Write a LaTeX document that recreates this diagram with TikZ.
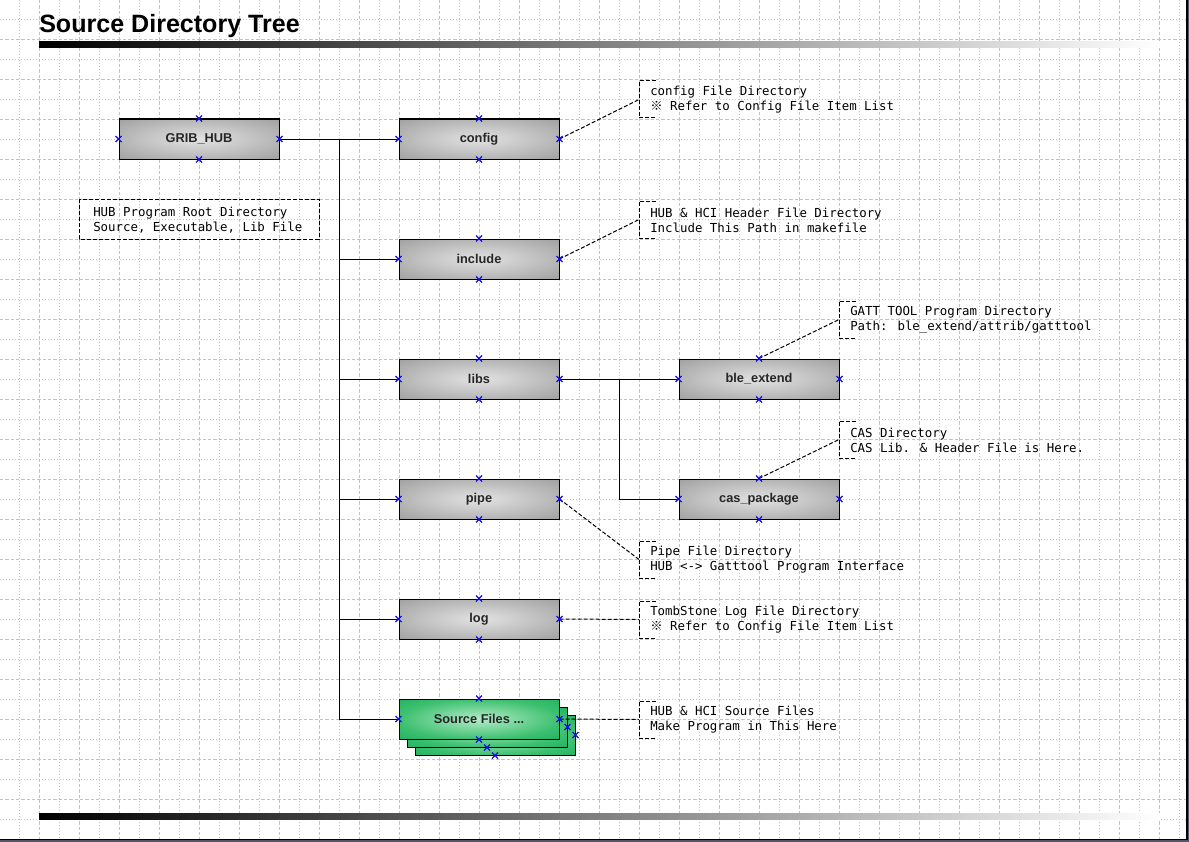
\documentclass[tikz,border=0pt]{standalone}
\usepackage{fontspec}
\newfontfamily\monof{DejaVu Sans Mono}
\newfontfamily\boxfont{Liberation Sans}
\newfontfamily\cjkf{Noto Sans CJK KR}
\usetikzlibrary{calc}
\definecolor{gridc}{HTML}{C2C2C2}
\definecolor{boxout}{HTML}{868686}
\definecolor{boxin}{HTML}{E2E2E2}
\definecolor{grnout}{HTML}{00A24C}
\definecolor{grnmid}{HTML}{3CC070}
\definecolor{grnin}{HTML}{B4ECC8}
\definecolor{framec}{HTML}{55556A}
\definecolor{mkc}{HTML}{1010E0}
\pgfdeclareradialshading{grayshade}{\pgfpoint{0bp}{0bp}}{color(0bp)=(boxin); color(50bp)=(boxout); color(75bp)=(boxout)}
\pgfdeclareradialshading{greenshade}{\pgfpoint{0bp}{0bp}}{color(0bp)=(grnin); color(25bp)=(grnmid); color(50bp)=(grnout); color(75bp)=(grnout)}
\newcommand\refmark{{\cjkf ※}}
\tikzset{
  griddot/.style={draw=gridc, line width=0.7pt, dash pattern=on 0.75pt off 1.5pt},
  griddash/.style={draw=gridc, line width=0.7pt, dash pattern=on 2.5pt off 1.5pt},
  dirbox/.style={draw=black, line width=0.75pt, shading=grayshade, minimum width=120pt, minimum height=30pt, inner sep=0pt, font=\boxfont\bfseries\fontsize{9.6}{11}\selectfont, text=black!85},
  srcbox/.style={dirbox, shading=greenshade},
  conn/.style={draw=black, line width=0.75pt},
  brk/.style={draw=black, line width=0.75pt, dash pattern=on 3pt off 1.5pt},
  annot/.style={font=\monof\fontsize{9.3}{11.25}\selectfont, align=left, inner sep=0pt, text=black},
  mkst/.style={draw=mkc, line width=0.85pt},
}
\newcommand\annot[5]{%
  \draw[brk] ({#2+17},#3) -- (#2,#3) -- (#2,{#3+37}) -- ({#2+17},{#3+37});
  \coordinate (#1) at (#2,{#3+18.5});
  \node[annot, anchor=west] (#1t) at ({#2+11},{#3+19}) {#4\\#5};
}
\begin{document}
\begin{tikzpicture}[x=0.75pt, y=-0.75pt]
\useasboundingbox (0,0) rectangle (1189,842);
\fill[white] (0,0) rectangle (1189,842);
% grid
\foreach \x in {19,59,...,1179} \draw[griddot] (\x,0) -- (\x,839);
\foreach \x in {39,79,...,1179} \draw[griddash] (\x,0) -- (\x,839);
\foreach \y in {19,59,...,819} \draw[griddot] (0,\y) -- (1187,\y);
\foreach \y in {39,79,...,799} \draw[griddash] (0,\y) -- (1187,\y);
% frame
\fill[framec] (1187,0) rectangle (1189,842);
\fill[framec] (0,839) rectangle (1189,842);
\draw[black, line width=0.9pt] (1187,0) -- (1187,839.5) -- (0,839.5);
% title and bars
\node[anchor=base west, inner sep=0pt, font=\boxfont\bfseries\fontsize{18.8}{22}\selectfont] (title) at (39,33) {Source Directory Tree};
\shade[left color=black, right color=white] (39,42) rectangle (1160,47.5);
\shade[left color=black, right color=white] (39,813) rectangle (1160,819);
% boxes
\node[dirbox] (hub) at (199,139) {GRIB\_HUB};
\node[dirbox] (config) at (479,139) {config};
\node[dirbox] (include) at (479,259) {include};
\node[dirbox] (libs) at (479,379) {libs};
\node[dirbox] (pipe) at (479,499) {pipe};
\node[dirbox] (log) at (479,619) {log};
\node[srcbox] (src3) at (495,735) {};
\node[srcbox] (src2) at (487,727) {};
\node[srcbox] (src) at (479,719) {Source Files ...};
\node[dirbox] (ble) at (759,379) {ble\_extend};
\node[dirbox] (cas) at (759,499) {cas\_package};
% tree connectors
\coordinate (j) at (339,139);
\draw[conn] (hub.east) -- (config.west);
\draw[conn] (j) |- (src.west);
\draw[conn] (j |- include.west) -- (include.west);
\draw[conn] (j |- libs.west) -- (libs.west);
\draw[conn] (j |- pipe.west) -- (pipe.west);
\draw[conn] (j |- log.west) -- (log.west);
\coordinate (k) at (619,379);
\draw[conn] (libs.east) -- (ble.west);
\draw[conn] (k) |- (cas.west);
% annotations
\draw[brk] (79,199) rectangle (319,239);
\node[annot, anchor=west] (hubnote) at (93,220) {HUB Program Root Directory\\Source, Executable, Lib File};
\annot{aconf}{639}{81}{config File Directory}{\refmark\ Refer to Config File Item List}
\annot{ainc}{639}{201}{HUB \& HCI Header File Directory}{Include This Path in makefile}
\annot{able}{839}{301}{GATT TOOL Program Directory}{Path: ble\_extend/attrib/gatttool}
\annot{acas}{839}{421}{CAS Directory}{CAS Lib. \& Header File is Here.}
\annot{apipe}{639}{541}{Pipe File Directory}{HUB <-> Gatttool Program Interface}
\annot{alog}{639}{601}{TombStone Log File Directory}{\refmark\ Refer to Config File Item List}
\annot{asrc}{639}{701}{HUB \& HCI Source Files}{Make Program in This Here}
\draw[brk] (config.east) -- (aconf);
\draw[brk] (include.east) -- (ainc);
\draw[brk] (ble.north) -- (able);
\draw[brk] (cas.north) -- (acas);
\draw[brk] (pipe.east) -- (apipe);
\draw[brk] (log.east) -- (alog);
\draw[brk] (src.east) -- (asrc);
% connection markers
\foreach \n in {hub,config,include,libs,pipe,log,src,ble,cas}
  \foreach \a in {north,south,east,west}
    \draw[mkst] (\n.\a) +(-3,-3) -- +(3,3) +(-3,3) -- +(3,-3);
\foreach \n in {src2,src3}
  \foreach \a in {south,east}
    \draw[mkst] (\n.\a) +(-3,-3) -- +(3,3) +(-3,3) -- +(3,-3);
\end{tikzpicture}
\end{document}
